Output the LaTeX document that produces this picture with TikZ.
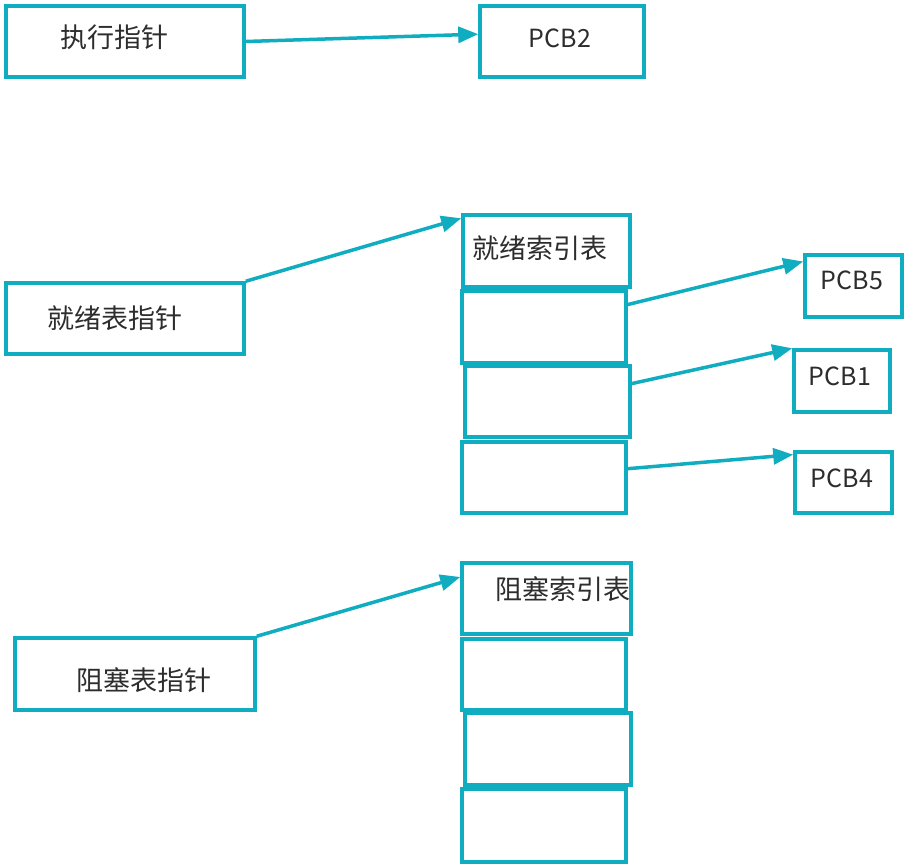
\documentclass[tikz,border=0pt]{standalone}
\usepackage{fontspec}
\setmainfont{Noto Sans CJK SC}
\usepackage{xcolor}
\usepackage{tikz}
\usetikzlibrary{arrows.meta,positioning,calc}
\definecolor{linkteal}{RGB}{16, 172, 192}
\definecolor{textdark}{RGB}{45, 45, 45}

\tikzset{
    box/.style={draw=linkteal, line width=3.5pt, fill=white, inner sep=0pt},
    txt/.style={text=textdark, inner sep=0pt, font=\fontsize{27pt}{32pt}\selectfont,
        text height=20pt, text depth=0pt},
    pcbtxt/.style={txt, font=\fontsize{25pt}{30pt}\selectfont},
    link/.style={draw=linkteal, line width=3.5pt, -{Triangle[length=20pt,width=16pt]}},
}

\begin{document}
\begin{tikzpicture}[x=1pt, y=-1pt]
    \useasboundingbox (0,0) rectangle (911,867);

    % running pointer
    \node[box, minimum width=238pt, minimum height=71pt] (exec) at (125,41.5) {};
    \node[txt] (exectxt) at (114,38) {执行指针};
    \node[box, minimum width=164pt, minimum height=71pt] (pcb2) at (562,41.5) {};
    \node[pcbtxt] (pcb2txt) at (560,38) {PCB2};

    % ready list
    \node[box, minimum width=238pt, minimum height=71pt] (ready) at (125,318.5) {};
    \node[txt] (readytxt) at (115,318) {就绪表指针};
    \node[box, minimum width=167pt, minimum height=72pt] (rh) at (546.5,251) {};
    \node[box, minimum width=164pt, minimum height=72pt] (r2) at (544,327) {};
    \node[box, minimum width=165pt, minimum height=71pt] (r3) at (547.5,401.5) {};
    \node[box, minimum width=164pt, minimum height=71pt] (r4) at (544,477.5) {};
    \node[txt] (rhtxt) at (540,248) {就绪索引表};
    \node[box, minimum width=97pt, minimum height=62pt] (pcb5) at (853.5,286) {};
    \node[pcbtxt] (pcb5txt) at (852,279) {PCB5};
    \node[box, minimum width=96pt, minimum height=62pt] (pcb1) at (842,381) {};
    \node[pcbtxt] (pcb1txt) at (840,375) {PCB1};
    \node[box, minimum width=97pt, minimum height=61pt] (pcb4) at (843.5,482.5) {};
    \node[pcbtxt] (pcb4txt) at (842,477) {PCB4};

    % blocked list
    \node[box, minimum width=240pt, minimum height=72pt] (block) at (135,674) {};
    \node[txt] (blocktxt) at (144,680) {阻塞表指针};
    \node[box, minimum width=169pt, minimum height=71pt] (bh) at (546.5,598.5) {};
    \node[box, minimum width=164pt, minimum height=71pt] (b2) at (544,674.5) {};
    \node[box, minimum width=166pt, minimum height=72pt] (b3) at (548,749) {};
    \node[box, minimum width=164pt, minimum height=73pt] (b4) at (544,825.5) {};
    \node[txt] (bhtxt) at (563,589) {阻塞索引表};

    % links
    \draw[link] (exec.east) -- (pcb2.175);
    \draw[link] (ready.north east) -- (rh.159);
    \draw[link] (r2.15) -- (pcb5.154);
    \draw[link] (r3.12) -- (pcb1.north west);
    \draw[link] (r4.6) -- (pcb4.151);
    \draw[link] (block.north east) -- (bh.166);
\end{tikzpicture}
\end{document}
